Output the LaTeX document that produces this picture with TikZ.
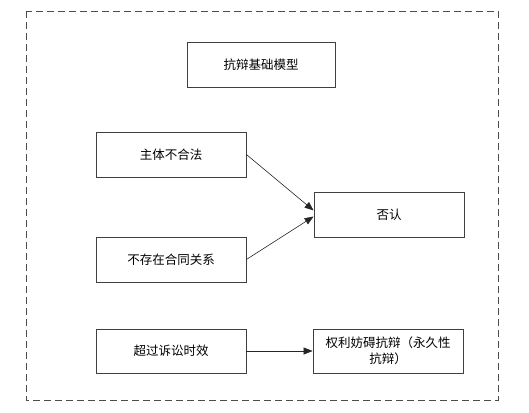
\documentclass[tikz,border=0pt]{standalone}
\usepackage{fontspec}
\setmainfont{Noto Sans CJK SC}
\usetikzlibrary{arrows.meta}
\begin{document}
\begin{tikzpicture}[x=1pt,y=-1pt,
  box/.style={draw=black!75,line width=0.8pt,minimum width=150pt,minimum height=45pt,inner sep=2pt,font=\fontsize{12.5}{16}\selectfont,align=center},
  conn/.style={draw=black!85,line width=0.6pt,-{Triangle[length=9pt,width=7pt]}}]
\useasboundingbox (0,0) rectangle (529,412);
\draw[black!70,line width=0.8pt,dash pattern=on 7pt off 4pt] (26,11) rectangle (498,400);
\node[box,minimum width=148pt] (t) at (261,64.5) {抗辩基础模型};
\node[box] (a) at (171,154.5) {主体不合法};
\node[box] (b) at (171,259.5) {不存在合同关系};
\node[box] (f) at (389,214.5) {否认};
\node[box,minimum height=44pt] (c) at (171,351) {超过诉讼时效};
\node[box,minimum height=44pt] (d) at (388,351) {权利妨碍抗辩（永久性\\抗辩）};
\draw[conn] (a.east) -- ([yshift=4pt]f.west);
\draw[conn] (b.east) -- ([yshift=-2pt]f.west);
\draw[conn] (c.east) -- (d.west);
\end{tikzpicture}
\end{document}
